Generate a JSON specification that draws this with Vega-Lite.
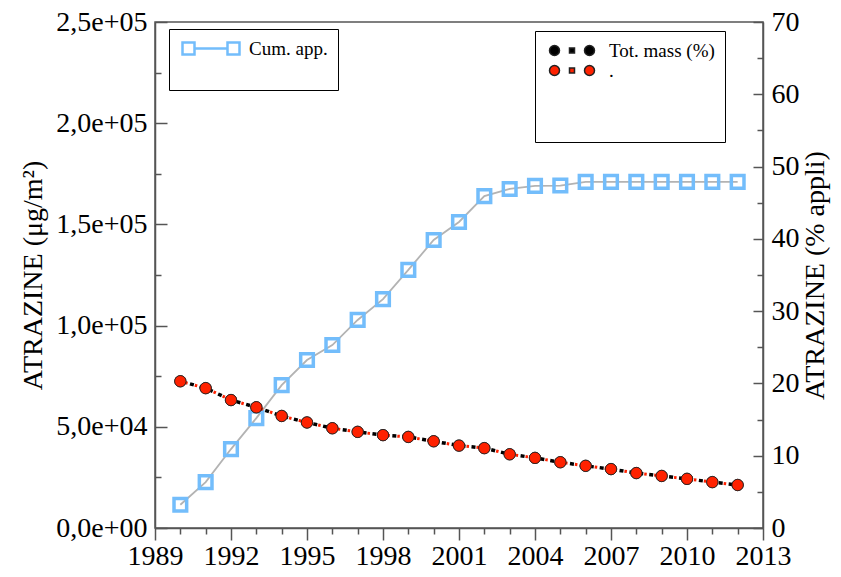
{
  "$schema": "https://vega.github.io/schema/vega-lite/v6.json",
  "width": 608,
  "height": 506,
  "autosize": {"type": "none"},
  "padding": {"left": 155, "top": 22, "right": 78, "bottom": 49},
  "background": "white",
  "config": {
    "view": {"stroke": "#555", "strokeWidth": 1.5},
    "font": "Liberation Serif",
    "text": {"font": "Liberation Serif"},
    "axis": {
      "grid": false,
      "labelFont": "Liberation Serif",
      "labelFontSize": 28,
      "labelColor": "black",
      "titleFont": "Liberation Serif",
      "titleFontSize": 28,
      "titleFontWeight": "normal",
      "titleColor": "black",
      "domainColor": "#555",
      "domainWidth": 1.5,
      "tickColor": "#555",
      "tickWidth": 1.5
    },
    "legend": {"labelFont": "Liberation Serif", "labelFontSize": 19, "labelColor": "black", "titleFont": "Liberation Serif"}
  },
  "datasets": {
    "cum": [
      {"year": 1990, "series": "Cum. app.", "value": 11500},
      {"year": 1991, "series": "Cum. app.", "value": 22700},
      {"year": 1992, "series": "Cum. app.", "value": 39000},
      {"year": 1993, "series": "Cum. app.", "value": 54300},
      {"year": 1994, "series": "Cum. app.", "value": 70600},
      {"year": 1995, "series": "Cum. app.", "value": 83000},
      {"year": 1996, "series": "Cum. app.", "value": 90400},
      {"year": 1997, "series": "Cum. app.", "value": 102800},
      {"year": 1998, "series": "Cum. app.", "value": 113100},
      {"year": 1999, "series": "Cum. app.", "value": 127500},
      {"year": 2000, "series": "Cum. app.", "value": 142300},
      {"year": 2001, "series": "Cum. app.", "value": 151200},
      {"year": 2002, "series": "Cum. app.", "value": 164000},
      {"year": 2003, "series": "Cum. app.", "value": 167500},
      {"year": 2004, "series": "Cum. app.", "value": 169000},
      {"year": 2005, "series": "Cum. app.", "value": 169200},
      {"year": 2006, "series": "Cum. app.", "value": 171000},
      {"year": 2007, "series": "Cum. app.", "value": 171000},
      {"year": 2008, "series": "Cum. app.", "value": 171000},
      {"year": 2009, "series": "Cum. app.", "value": 171000},
      {"year": 2010, "series": "Cum. app.", "value": 171000},
      {"year": 2011, "series": "Cum. app.", "value": 171000},
      {"year": 2012, "series": "Cum. app.", "value": 171000}
    ],
    "pct": [
      {"year": 1990, "series": "Tot. mass (%)", "value": 20.3},
      {"year": 1991, "series": "Tot. mass (%)", "value": 19.35},
      {"year": 1992, "series": "Tot. mass (%)", "value": 17.7},
      {"year": 1993, "series": "Tot. mass (%)", "value": 16.7},
      {"year": 1994, "series": "Tot. mass (%)", "value": 15.5},
      {"year": 1995, "series": "Tot. mass (%)", "value": 14.6},
      {"year": 1996, "series": "Tot. mass (%)", "value": 13.8},
      {"year": 1997, "series": "Tot. mass (%)", "value": 13.3},
      {"year": 1998, "series": "Tot. mass (%)", "value": 12.85},
      {"year": 1999, "series": "Tot. mass (%)", "value": 12.6},
      {"year": 2000, "series": "Tot. mass (%)", "value": 12.0},
      {"year": 2001, "series": "Tot. mass (%)", "value": 11.4},
      {"year": 2002, "series": "Tot. mass (%)", "value": 11.05},
      {"year": 2003, "series": "Tot. mass (%)", "value": 10.2},
      {"year": 2004, "series": "Tot. mass (%)", "value": 9.7},
      {"year": 2005, "series": "Tot. mass (%)", "value": 9.1},
      {"year": 2006, "series": "Tot. mass (%)", "value": 8.6},
      {"year": 2007, "series": "Tot. mass (%)", "value": 8.15},
      {"year": 2008, "series": "Tot. mass (%)", "value": 7.6},
      {"year": 2009, "series": "Tot. mass (%)", "value": 7.2},
      {"year": 2010, "series": "Tot. mass (%)", "value": 6.8},
      {"year": 2011, "series": "Tot. mass (%)", "value": 6.35},
      {"year": 2012, "series": "Tot. mass (%)", "value": 5.95},
      {"year": 1990, "series": ".", "value": 20.3},
      {"year": 1991, "series": ".", "value": 19.35},
      {"year": 1992, "series": ".", "value": 17.7},
      {"year": 1993, "series": ".", "value": 16.7},
      {"year": 1994, "series": ".", "value": 15.5},
      {"year": 1995, "series": ".", "value": 14.6},
      {"year": 1996, "series": ".", "value": 13.8},
      {"year": 1997, "series": ".", "value": 13.3},
      {"year": 1998, "series": ".", "value": 12.85},
      {"year": 1999, "series": ".", "value": 12.6},
      {"year": 2000, "series": ".", "value": 12.0},
      {"year": 2001, "series": ".", "value": 11.4},
      {"year": 2002, "series": ".", "value": 11.05},
      {"year": 2003, "series": ".", "value": 10.2},
      {"year": 2004, "series": ".", "value": 9.7},
      {"year": 2005, "series": ".", "value": 9.1},
      {"year": 2006, "series": ".", "value": 8.6},
      {"year": 2007, "series": ".", "value": 8.15},
      {"year": 2008, "series": ".", "value": 7.6},
      {"year": 2009, "series": ".", "value": 7.2},
      {"year": 2010, "series": ".", "value": 6.8},
      {"year": 2011, "series": ".", "value": 6.35},
      {"year": 2012, "series": ".", "value": 5.95}
    ]
  },
  "encoding": {
    "x": {
      "field": "year",
      "type": "quantitative",
      "scale": {"domain": [1989, 2013], "nice": false, "zero": false},
      "axis": {
        "title": null,
        "values": [1989,1990,1991,1992,1993,1994,1995,1996,1997,1998,1999,2000,2001,2002,2003,2004,2005,2006,2007,2008,2009,2010,2011,2012,2013],
        "format": "d",
        "labelFont": "Liberation Serif",
        "labelExpr": "datum.value % 3 === 0 ? datum.label : ''",
        "tickSize": {"condition": {"test": "datum.value % 3 === 0", "value": 12}, "value": 6},
        "labelPadding": 2,
        "labelFlush": false,
        "labelOverlap": false
      }
    }
  },
  "layer": [
    {
      "data": {"name": "cum"},
      "encoding": {
        "y": {
          "field": "value",
          "type": "quantitative",
          "scale": {"domain": [0, 250000], "nice": false},
          "axis": {
            "title": "ATRAZINE (μg/m²)",
            "values": [0,25000,50000,75000,100000,125000,150000,175000,200000,225000,250000],
            "labelFont": "Liberation Serif",
            "labelExpr": "datum.value % 50000 === 0 ? replace(replace(format(datum.value, '.1e'), 'e+', 'e+0'), '.', ',') : ''",
            "tickSize": {"condition": {"test": "datum.value % 50000 === 0", "value": -12}, "value": -6},
            "labelPadding": 20,
            "labelOverlap": false,
            "labelFlush": false,
            "titlePadding": 8
          }
        }
      },
      "layer": [
        {"mark": {"type": "line", "color": "#b3b3b3", "strokeWidth": 1.8}},
        {
          "mark": {"type": "point", "shape": "square", "filled": false, "size": 160, "strokeWidth": 3.5, "opacity": 1},
          "encoding": {
            "color": {
              "field": "series",
              "type": "nominal",
              "scale": {"range": ["#73bdfb"]},
              "legend": {
                "orient": "none",
                "legendX": 14,
                "legendY": 7,
                "title": " ",
                "titleOrient": "bottom",
                "titleFontSize": 10,
                "titlePadding": 10,
                "strokeColor": "black",
                "fillColor": "white",
                "padding": 10,
                "labelFont": "Liberation Serif",
                "symbolType": "M-1,-1H1V1H-1Z M1,0H6.5 M6.5,-1H8.5V1H6.5Z",
                "symbolSize": 144,
                "symbolStrokeWidth": 2.5,
                "labelOffset": 51,
                "encode": {"legend": {"update": {"strokeWidth": {"value": 2}}}}
              }
            }
          }
        }
      ]
    },
    {
      "data": {"name": "pct"},
      "encoding": {
        "y": {
          "field": "value",
          "type": "quantitative",
          "scale": {"domain": [0, 70], "nice": false},
          "axis": {
            "orient": "right",
            "title": "ATRAZINE (% appli)",
            "titleAngle": -90,
            "titleBaseline": "top",
            "values": [0,5,10,15,20,25,30,35,40,45,50,55,60,65,70],
            "labelFont": "Liberation Serif",
            "labelExpr": "datum.value % 10 === 0 ? datum.label : ''",
            "tickSize": {"condition": {"test": "datum.value % 10 === 0", "value": -10}, "value": -6},
            "labelPadding": 18,
            "labelOverlap": false,
            "labelFlush": false,
            "titlePadding": 2
          }
        }
      },
      "layer": [
        {
          "transform": [{"filter": "datum.series === 'Tot. mass (%)'"}],
          "mark": {"type": "line", "color": "black", "strokeWidth": 3.5, "strokeDash": [4, 6]}
        },
        {
          "transform": [{"filter": "datum.series === '.'"}],
          "mark": {"type": "line", "color": "#ff2200", "strokeWidth": 3, "strokeDash": [2.5, 7.5], "strokeDashOffset": 5}
        },
        {
          "mark": {"type": "point", "shape": "circle", "filled": true, "size": 130, "stroke": "#222", "strokeWidth": 0.8, "opacity": 1},
          "encoding": {
            "color": {
              "field": "series",
              "type": "nominal",
              "scale": {"domain": ["Tot. mass (%)", "."], "range": ["black", "#ff2200"]},
              "legend": {
                "orient": "none",
                "legendX": 380,
                "legendY": 9,
                "title": " ",
                "titleOrient": "bottom",
                "titleFontSize": 10,
                "titlePadding": 41,
                "strokeColor": "black",
                "fillColor": "white",
                "padding": 10,
                "rowPadding": -9,
                "labelFont": "Liberation Serif",
                "symbolType": "M-1,0A1,1 0 1,0 1,0A1,1 0 1,0 -1,0Z M3,-0.5H4V0.5H3Z M6,0A1,1 0 1,0 8,0A1,1 0 1,0 6,0Z",
                "symbolSize": 100,
                "labelOffset": 45,
                "encode": {
                  "legend": {"update": {"strokeWidth": {"value": 2}, "strokeDash": {"value": [9, 6]}}},
                  "labels": {"enter": {"dy": {"signal": "datum.index === 1 ? -12 : 0"}}, "update": {"dy": {"signal": "datum.index === 1 ? -12 : 0"}}},
                  "symbols": {"enter": {"dy": {"signal": "datum.index === 1 ? -12 : 0"}}, "update": {"y": {"signal": "datum.index === 1 ? -2 : 10"}}}
                }
              }
            }
          }
        }
      ]
    }
  ],
  "resolve": {"scale": {"y": "independent", "color": "independent"}}
}
